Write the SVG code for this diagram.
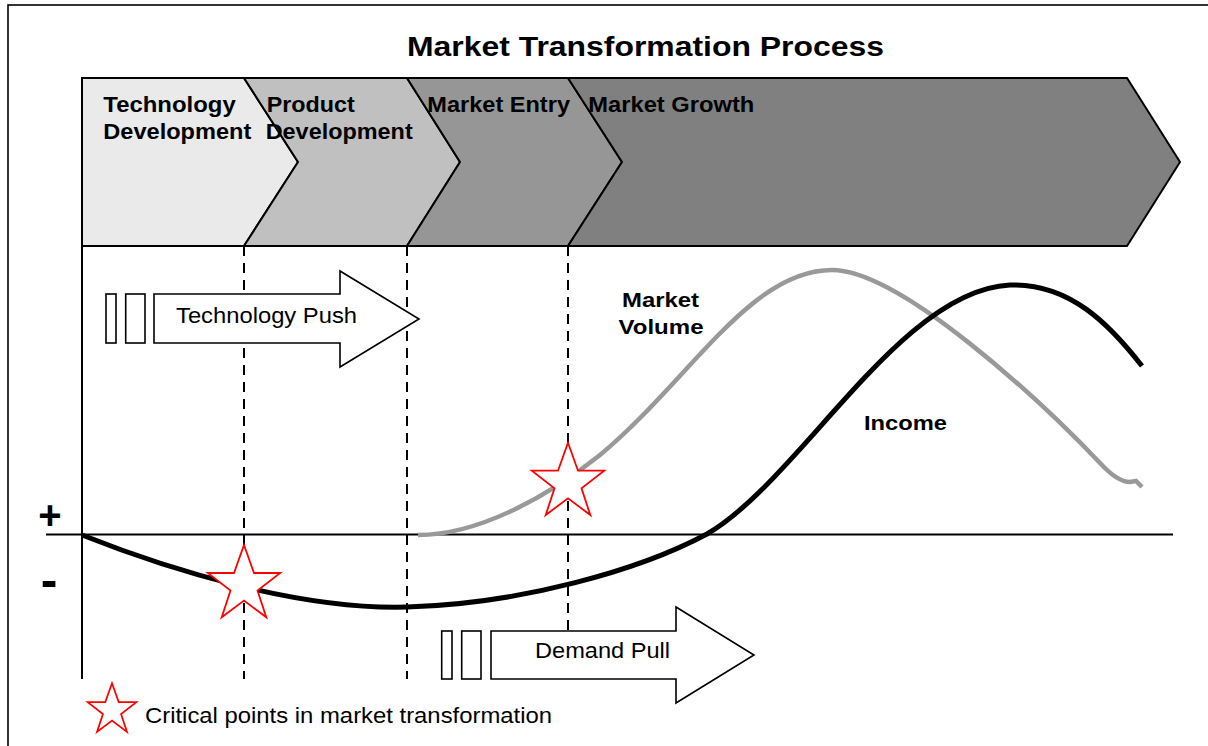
<svg xmlns="http://www.w3.org/2000/svg" xmlns:xlink="http://www.w3.org/1999/xlink" width="1208" height="746" viewBox="0 0 1208 746">
<style>
.chev{stroke:#000;stroke-width:2;stroke-linejoin:miter}
.lbl{font-family:"Liberation Sans",Arial,sans-serif;font-weight:bold;font-size:22px;fill:#000}
.reg{font-family:"Liberation Sans",Arial,sans-serif;font-size:22px;fill:#000}
.dash{stroke:#000;stroke-width:2;stroke-dasharray:10 7;fill:none}
.axis{stroke:#000;stroke-width:2;fill:none}
.arrow{fill:#fff;stroke:#000;stroke-width:1.6}
.star{fill:#fff;stroke:#f00;stroke-width:1.8;stroke-linejoin:miter}
</style>
<defs>
<polygon id="star" points="0,0 10,28 36.2,28 13.5,45.6 22.3,72.3 0,55.6 -22.3,72.3 -13.5,45.6 -36.2,28 -10,28"/>
</defs>
<rect x="0" y="0" width="1208" height="746" fill="#fff"/>
<rect x="8" y="5" width="1215" height="760" fill="none" stroke="#000" stroke-width="1.6"/>
<text id="title" x="407" y="56" class="lbl" style="font-size:27px" textLength="477" lengthAdjust="spacingAndGlyphs">Market Transformation Process</text>

<g id="phase-technology">
<polygon class="chev" fill="#eaeaea" points="82,78 244,78 298,162 244,246 82,246"/>
<text class="lbl" x="103.3" y="112.3" textLength="132.4" lengthAdjust="spacingAndGlyphs">Technology</text>
<text class="lbl" x="103.3" y="139" textLength="148" lengthAdjust="spacingAndGlyphs">Development</text>
</g>
<g id="phase-product">
<polygon class="chev" fill="#c0c0c0" points="244,78 407,78 460,162 407,246 244,246 298,162"/>
<text class="lbl" x="266.7" y="112.3" textLength="88" lengthAdjust="spacingAndGlyphs">Product</text>
<text class="lbl" x="265.7" y="139" textLength="147" lengthAdjust="spacingAndGlyphs">Development</text>
</g>
<g id="phase-entry">
<polygon class="chev" fill="#969696" points="407,78 568,78 622,162 568,246 407,246 460,162"/>
<text class="lbl" x="427.3" y="112.3" textLength="142.7" lengthAdjust="spacingAndGlyphs">Market Entry</text>
</g>
<g id="phase-growth">
<polygon class="chev" fill="#808080" points="568,78 1127,78 1180,162 1127,246 568,246 622,162"/>
<text class="lbl" x="588.3" y="112.3" textLength="166" lengthAdjust="spacingAndGlyphs">Market Growth</text>
</g>

<g id="axes">
<line class="axis" x1="82" y1="246" x2="82" y2="679"/>
<line class="axis" x1="46" y1="534.5" x2="1173" y2="534.5"/>
<text class="lbl" x="50" y="529" text-anchor="middle" style="font-size:40px">+</text>
<text class="lbl" x="49" y="597" text-anchor="middle" style="font-size:50px">-</text>
</g>

<g id="connectors">
<line class="dash" x1="244" y1="246" x2="244" y2="679"/>
<line class="dash" x1="407" y1="246" x2="407" y2="679"/>
<line class="dash" x1="568" y1="246" x2="568" y2="679"/>
</g>

<g id="market-volume">
<path d="M418,535 C480,535 550,495 600,455 C690,380 750,270 832,270 C900,270 1040,400 1100,463 C1112,476 1122,482 1130,482 L1136,481 L1142,487" fill="none" stroke="#999" stroke-width="4.5"/>
<text class="lbl" x="622" y="307" style="font-size:21px" textLength="77" lengthAdjust="spacingAndGlyphs">Market</text>
<text class="lbl" x="618.5" y="333.5" style="font-size:21px" textLength="85" lengthAdjust="spacingAndGlyphs">Volume</text>
</g>
<g id="income">
<path d="M82,535 C170,570 300,610 407,607 C520,604 640,570 707,534 C800,480 900,290 1010,285 C1070,283 1110,325 1142,366" fill="none" stroke="#000" stroke-width="5"/>
<text class="lbl" x="864" y="430" style="font-size:21px" textLength="83" lengthAdjust="spacingAndGlyphs">Income</text>
</g>

<g id="technology-push">
<rect class="arrow" x="106" y="294" width="10" height="49"/>
<rect class="arrow" x="125.7" y="294" width="19.3" height="49"/>
<polygon class="arrow" points="154,294 340,294 340,271 419,319 340,367 340,343 154,343"/>
<text class="reg" x="176" y="322.7" textLength="181" lengthAdjust="spacingAndGlyphs">Technology Push</text>
</g>
<g id="demand-pull">
<rect class="arrow" x="441.7" y="631" width="10.3" height="48"/>
<rect class="arrow" x="461.7" y="631" width="19.3" height="48"/>
<polygon class="arrow" points="491,631 676,631 676,607 754,655 676,703 676,679 491,679"/>
<text class="reg" x="535" y="658.3" textLength="135" lengthAdjust="spacingAndGlyphs">Demand Pull</text>
</g>

<g id="critical-point-1"><use xlink:href="#star" href="#star" class="star" x="244" y="545"/></g>
<g id="critical-point-2"><use xlink:href="#star" href="#star" class="star" x="568" y="442.7"/></g>

<g id="legend">
<use xlink:href="#star" href="#star" class="star" transform="translate(112,683.3) scale(0.672)" style="stroke-width:2.6"/>
<text class="reg" x="145" y="723.3" textLength="407" lengthAdjust="spacingAndGlyphs">Critical points in market transformation</text>
</g>
</svg>
